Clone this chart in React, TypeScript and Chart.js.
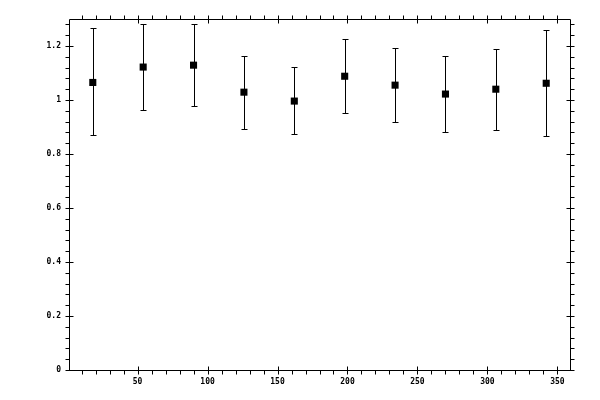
import React, { useEffect, useRef } from 'react';
import { Chart, registerables } from 'chart.js';

Chart.register(...registerables);

// bin centres (degrees) and measured ratio with its error band
const angles = [18, 54, 90, 126, 162, 198, 234, 270, 306, 342];
const ratio = [1.065, 1.122, 1.129, 1.029, 0.996, 1.088, 1.055, 1.022, 1.04, 1.062];
const upper = [1.267, 1.283, 1.283, 1.163, 1.122, 1.226, 1.192, 1.163, 1.189, 1.259];
const lower = [0.869, 0.962, 0.977, 0.891, 0.873, 0.951, 0.917, 0.88, 0.888, 0.866];

const xTicks = [50, 100, 150, 200, 250, 300, 350];
const yTicks = [0, 0.2, 0.4, 0.6, 0.8, 1, 1.2];

const X_MINOR = 10;
const Y_MINOR = 0.04;

const errorBars = {
  id: 'errorBars',
  beforeDatasetsDraw(chart: any) {
    const { ctx, scales } = chart;
    const { x, y } = scales;
    ctx.save();
    ctx.strokeStyle = '#000';
    ctx.lineWidth = 1;
    angles.forEach((a, i) => {
      const px = Math.round(x.getPixelForValue(a)) + 0.5;
      const hi = Math.round(y.getPixelForValue(upper[i])) + 0.5;
      const lo = Math.round(y.getPixelForValue(lower[i])) + 0.5;
      ctx.beginPath();
      ctx.moveTo(px, hi);
      ctx.lineTo(px, lo);
      ctx.moveTo(px - 3, hi);
      ctx.lineTo(px + 3, hi);
      ctx.moveTo(px - 3, lo);
      ctx.lineTo(px + 3, lo);
      ctx.stroke();
    });
    ctx.restore();
  },
};

// box round the plot with ticks on every side: majors cross, minors point out
const frame = {
  id: 'frame',
  afterDraw(chart: any) {
    const { ctx, chartArea, scales } = chart;
    const { x, y } = scales;
    const L = Math.round(chartArea.left) + 0.5;
    const R = Math.round(chartArea.right) + 0.5;
    const T = Math.round(chartArea.top) + 0.5;
    const B = Math.round(chartArea.bottom) + 0.5;
    ctx.save();
    ctx.strokeStyle = '#000';
    ctx.lineWidth = 1;
    ctx.beginPath();
    ctx.rect(L, T, R - L, B - T);

    for (let i = Math.ceil(x.min / X_MINOR); i * X_MINOR <= x.max; i++) {
      const v = i * X_MINOR;
      const px = Math.round(x.getPixelForValue(v)) + 0.5;
      const major = xTicks.includes(v);
      ctx.moveTo(px, major ? B - 4 : B);
      ctx.lineTo(px, B + 4);
      ctx.moveTo(px, major ? T + 4 : T);
      ctx.lineTo(px, T - 4);
    }
    for (let i = 0; i * Y_MINOR <= y.max + 1e-9; i++) {
      const v = i * Y_MINOR;
      const py = Math.round(y.getPixelForValue(v)) + 0.5;
      const major = i % 5 === 0;
      ctx.moveTo(major ? L + 4 : L, py);
      ctx.lineTo(L - 4, py);
      ctx.moveTo(major ? R - 4 : R, py);
      ctx.lineTo(R + 4, py);
    }
    ctx.stroke();
    ctx.restore();
  },
};

const tickFont = { family: 'DejaVu Sans Mono', size: 8, weight: 'bold' as const };

const App: React.FC = () => {
  const chartRef = useRef<HTMLCanvasElement | null>(null);
  const chartInstanceRef = useRef<Chart | null>(null);

  useEffect(() => {
    if (chartRef.current) {
      const ctx = chartRef.current.getContext('2d');
      if (ctx) {
        chartInstanceRef.current = new Chart(ctx, {
          type: 'scatter',
          data: {
            datasets: [
              {
                data: angles.map((a, i) => ({ x: a, y: ratio[i] })),
                pointStyle: 'rect',
                pointRadius: 5,
                pointBackgroundColor: '#000',
                pointBorderWidth: 0,
                showLine: false,
              },
            ],
          },
          options: {
            animation: false,
            responsive: true,
            maintainAspectRatio: false,
            layout: { padding: { top: 19, right: 30, left: 0, bottom: 0 } },
            plugins: {
              legend: { display: false },
              tooltip: { enabled: false },
            },
            scales: {
              x: {
                type: 'linear',
                min: 1,
                max: 359,
                afterBuildTicks: (scale: any) => {
                  scale.ticks = xTicks.map((v) => ({ value: v }));
                },
                afterFit: (scale: any) => {
                  scale.height = 30;
                },
                grid: { display: false, drawTicks: false },
                border: { display: false },
                ticks: {
                  color: '#000',
                  font: tickFont,
                  padding: 7,
                  maxRotation: 0,
                  autoSkip: false,
                  callback: (v: any) => String(v),
                },
              },
              y: {
                type: 'linear',
                min: 0,
                max: 1.3,
                afterBuildTicks: (scale: any) => {
                  scale.ticks = yTicks.map((v) => ({ value: v }));
                },
                afterFit: (scale: any) => {
                  scale.width = 69;
                },
                grid: { display: false, drawTicks: false },
                border: { display: false },
                ticks: {
                  color: '#000',
                  font: tickFont,
                  padding: 8,
                  autoSkip: false,
                  callback: (v: any) => String(v),
                },
              },
            },
          },
          plugins: [errorBars, frame],
        });
      }
    }

    return () => {
      if (chartInstanceRef.current) {
        chartInstanceRef.current.destroy();
      }
    };
  }, []);

  return (
    <div style={{ position: 'absolute', left: 0, top: 0, width: 600, height: 400, background: '#fff' }}>
      <canvas ref={chartRef} />
    </div>
  );
};

export default App;
